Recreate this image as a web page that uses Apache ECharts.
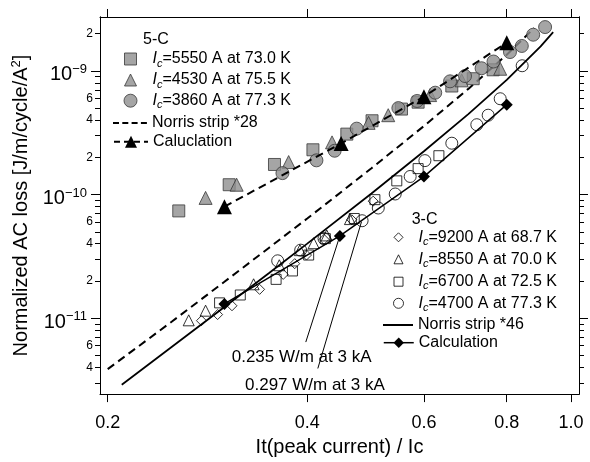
<!DOCTYPE html>
<html><head><meta charset="utf-8">
<script src="https://cdn.jsdelivr.net/npm/echarts@6/dist/echarts.min.js"></script>
<style>html,body{margin:0;padding:0;background:#fff}#c{width:590px;height:462px}</style>
</head><body><div id="c"></div>
<script>
// ---------------- data (x = It/Ic, y = normalized loss) ----------------
const xTickVals = [0.2, 0.4, 0.6, 0.8, 1.0];
const yLabelVals = [2e-9, 1e-9, 6e-10, 4e-10, 2e-10, 1e-10, 6e-11, 4e-11, 2e-11, 1e-11, 6e-12, 4e-12];
const yMajorTicks = [1e-11, 1e-10, 1e-9];
const yMinorTicks = [3e-12,4e-12,5e-12,6e-12,7e-12,8e-12,9e-12,
  2e-11,3e-11,4e-11,5e-11,6e-11,7e-11,8e-11,9e-11,
  2e-10,3e-10,4e-10,5e-10,6e-10,7e-10,8e-10,9e-10,2e-9];

// 5-C
const sq5550 = [[0.256,7.37e-11],[0.305,1.20e-10],[0.357,1.75e-10],[0.408,2.30e-10],[0.459,3.08e-10],[0.501,3.95e-10],[0.555,4.91e-10],[0.588,5.58e-10],[0.661,7.54e-10],[0.712,8.64e-10],[0.763,1.02e-9]];
const tri4530 = [[0.281,9.39e-11],[0.313,1.20e-10],[0.375,1.83e-10],[0.436,2.64e-10],[0.495,3.80e-10],[0.530,4.38e-10],[0.613,6.37e-10],[0.684,8.38e-10],[0.782,1.04e-9]];
const cir3860 = [[0.367,1.49e-10],[0.413,1.89e-10],[0.440,2.26e-10],[0.475,3.41e-10],[0.549,5.00e-10],[0.586,5.71e-10],[0.624,6.66e-10],[0.657,8.23e-10],[0.692,9.08e-10],[0.733,1.05e-9],[0.764,1.19e-9],[0.809,1.42e-9],[0.843,1.59e-9],[0.877,1.96e-9],[0.914,2.26e-9]];
const norris28X = [0.2, 0.25, 0.3, 0.35, 0.4, 0.5, 0.6, 0.7, 0.8, 0.88];
const norris28Y = [3.87e-12, 9.4e-12, 1.97e-11, 3.7e-11, 6.4e-11, 1.63e-10, 3.58e-10, 7.15e-10, 1.35e-9, 2.22e-9];
const calc5X = [0.30, 0.45, 0.60, 0.80];
const calc5Y = [7.98e-11, 2.59e-10, 6.19e-10, 1.69e-9];

// 3-C
const dia9200 = [[0.277,9.55e-12],[0.293,1.07e-11],[0.308,1.26e-11],[0.339,1.71e-11],[0.368,2.26e-11],[0.383,2.76e-11],[0.399,3.24e-11],[0.424,4.34e-11],[0.467,6.25e-11],[0.503,8.84e-11]];
const tri8550 = [[0.265,9.61e-12],[0.281,1.15e-11],[0.332,1.88e-11],[0.363,2.68e-11],[0.390,3.55e-11],[0.409,4.04e-11],[0.428,4.67e-11],[0.464,6.33e-11]];
const sq6700 = [[0.295,1.33e-11],[0.317,1.54e-11],[0.359,2.06e-11],[0.380,2.41e-11],[0.402,3.24e-11],[0.426,4.40e-11],[0.471,6.40e-11],[0.506,9.09e-11],[0.546,1.29e-10],[0.588,1.62e-10],[0.632,2.06e-10]];
const cir4700 = [[0.361,2.91e-11],[0.391,3.55e-11],[0.424,4.40e-11],[0.484,6.14e-11],[0.512,7.78e-11],[0.543,1.01e-10],[0.572,1.40e-10],[0.602,1.88e-10],[0.661,2.60e-10],[0.721,3.67e-10],[0.750,4.38e-10],[0.782,5.95e-10],[0.844,1.10e-9]];
const norris46X = [0.21, 0.25, 0.3, 0.35, 0.4, 0.5, 0.6, 0.7, 0.8, 0.9, 0.94];
const norris46Y = [2.9e-12, 5.87e-12, 1.23e-11, 2.31e-11, 4.01e-11, 1.02e-10, 2.24e-10, 4.47e-10, 8.45e-10, 1.58e-9, 2.06e-9];
const calc3X = [0.30, 0.448, 0.60, 0.80];
const calc3Y = [1.305e-11, 4.63e-11, 1.396e-10, 5.33e-10];

// annotation leader lines (label end -> data point)
const ann1 = [[0.398, 6.41e-12], [0.448, 4.63e-11]];
const ann2 = [[0.415, 3.92e-12], [0.483, 6.03e-11]];
const annText = ['0.235 W/m at 3 kA', '0.297 W/m at 3 kA'];

// ---------------- helpers ----------------
const L = Math.log10;
const P = arr => arr.map(p => [L(p[0]), L(p[1])]);
const Z = (xs, ys) => xs.map((x, i) => [L(x), L(ys[i])]);
const FONT = '"Liberation Sans", Arial, sans-serif';
const XMIN = -0.7106, XMAX = 0.0121, YMIN = -11.6139, YMAX = -8.5644;

const gray = {color: '#8f8f8f', borderColor: '#383838', borderWidth: 1};
const open = {color: 'rgba(255,255,255,0)', borderColor: '#000', borderWidth: 1};

function yFmt(v) {
  const e = Math.floor(v + 1e-6);
  const m = Math.round(Math.pow(10, v - e));
  if (m === 1) return '{b|10}{s|\u2212' + (-e) + '}';
  return '{m|' + m + '}';
}

function xAx(pos, showLabel) {
  return {
    type: 'value', position: pos, min: XMIN, max: XMAX,
    axisLine: {show: true, onZero: false, lineStyle: {color: '#000', width: 1}},
    axisTick: {show: true, customValues: xTickVals.map(L), length: 8, lineStyle: {color: '#000', width: 1}},
    axisLabel: {show: showLabel, customValues: xTickVals.map(L), formatter: v => Math.pow(10, v).toFixed(1),
      fontSize: 18, color: '#000', fontFamily: FONT, margin: 20},
    splitLine: {show: false},
    name: showLabel ? 'It(peak current) / Ic' : '', nameLocation: 'middle', nameGap: 36,
    nameTextStyle: {fontSize: 20, color: '#000', fontFamily: FONT}
  };
}
function yAx(pos, ticks, len, labels, withName) {
  const a = {
    type: 'value', position: pos, min: YMIN, max: YMAX,
    axisLine: {show: true, onZero: false, lineStyle: {color: '#000', width: 1}},
    axisTick: {show: true, customValues: ticks.map(L), length: len, lineStyle: {color: '#000', width: 1}},
    axisLabel: {show: !!labels, customValues: (labels || []).map(L), formatter: yFmt, color: '#000', fontFamily: FONT, margin: 7,
      rich: {
        b: {fontSize: 20, lineHeight: 20, padding: [8, 0, 0, 0], fontFamily: FONT, color: '#000'},
        s: {fontSize: 13, lineHeight: 13, verticalAlign: 'top', padding: [2, 6, 0, 0], fontFamily: FONT, color: '#000'},
        m: {fontSize: 12, fontFamily: FONT, color: '#000'}
      }},
    splitLine: {show: false}
  };
  if (withName) {
    a.name = '{n|Normalized AC loss [J/m/cycle/A}{p|2}{n|]}';
    a.nameLocation = 'middle';
    a.nameGap = 59;
    a.nameTextStyle = {fontFamily: FONT, color: '#000', rich: {
      n: {fontSize: 20, lineHeight: 24, fontFamily: FONT, color: '#000'},
      p: {fontSize: 13, lineHeight: 12, verticalAlign: 'top', fontFamily: FONT, color: '#000'}
    }};
  }
  return a;
}

const richLeg = {
  i: {fontSize: 16, fontStyle: 'italic', lineHeight: 20, fontFamily: FONT, color: '#000'},
  c: {fontSize: 11, fontStyle: 'italic', lineHeight: 8, verticalAlign: 'bottom', fontFamily: FONT, color: '#000'},
  t: {fontSize: 16, lineHeight: 20, fontFamily: FONT, color: '#000'}
};
function legFmt(name) {
  if (name.indexOf('Ic') === 0) return '{i|I}{c|c}{t|' + name.slice(2) + '}';
  return '{t|' + name + '}';
}
const ICON = {
  sq: 'path://M0,0L10,0L10,10L0,10Z',
  tri: 'path://M5,0L10,10L0,10Z',
  dia: 'path://M5,0L10,5L5,10L0,5Z',
  dash: 'path://M0,0h6v2h-6zM9.3,0h6v2h-6zM18.6,0h6v2h-6zM27.9,0h6v2h-6z',
  solid: 'path://M0,0h30v2h-30z'
};
function leg(name, left, cy, o) {
  return Object.assign({
    data: [name], left: left, top: cy - 10, padding: 0, orient: 'horizontal',
    selectedMode: false, itemWidth: 34, itemHeight: 12, formatter: legFmt,
    textStyle: {fontSize: 16, color: '#000', fontFamily: FONT, lineHeight: 20, rich: richLeg}
  }, o);
}
// legend box left edges (icon boxes of 34 / 30 px); small icons are centred in them
const L5 = 113, L3 = 383;
const cen = (boxLeft, boxW, icon) => boxLeft + (boxW - icon) / 2;

const N5a = 'Ic=5550 A at 73.0 K', N5b = 'Ic=4530 A at 75.5 K', N5c = 'Ic=3860 A at 77.3 K';
const N5n = 'Norris strip *28', N5k = 'Caluclation';
const N3a = 'Ic=9200 A at 68.7 K', N3b = 'Ic=8550 A at 70.0 K', N3c = 'Ic=6700 A at 72.5 K', N3d = 'Ic=4700 A at 77.3 K';
const N3n = 'Norris strip *46', N3k = 'Calculation';
const openLeg = {color: '#fff', borderColor: '#000', borderWidth: 1};

const legends = [
  leg(N5a, cen(L5, 34, 12), 59, {icon: ICON.sq, itemHeight: 12, itemStyle: gray}),
  leg(N5b, cen(L5, 34, 12), 80, {icon: ICON.tri, itemHeight: 12, itemStyle: gray}),
  leg(N5c, cen(L5, 34, 13), 100.7, {icon: 'circle', itemHeight: 13, itemStyle: gray}),
  leg(N5n, L5, 123, {icon: ICON.dash, itemHeight: 2, itemStyle: {color: '#000', borderWidth: 0}}),
  leg(N5k, L5, 141.7, {itemHeight: 15, lineStyle: {type: [6, 4], width: 2, color: '#000'}, itemStyle: {color: '#000', borderWidth: 0}}),
  leg(N3a, cen(L3, 30, 9), 237.3, {icon: ICON.dia, itemWidth: 30, itemHeight: 9, itemStyle: openLeg}),
  leg(N3b, cen(L3, 30, 9), 259.3, {icon: ICON.tri, itemWidth: 30, itemHeight: 9, itemStyle: openLeg}),
  leg(N3c, cen(L3, 30, 9), 281.7, {icon: ICON.sq, itemWidth: 30, itemHeight: 9, itemStyle: openLeg}),
  leg(N3d, cen(L3, 30, 10), 303.3, {icon: 'circle', itemWidth: 30, itemHeight: 10, itemStyle: openLeg}),
  leg(N3n, L3, 325, {icon: ICON.solid, itemWidth: 30, itemHeight: 2, itemStyle: {color: '#000', borderWidth: 0}}),
  leg(N3k, L3, 342.7, {itemWidth: 30, itemHeight: 13, lineStyle: {type: 'solid', width: 1.5, color: '#000'}, itemStyle: {color: '#000', borderWidth: 0}})
];

function scat(name, data, sym, size, style) {
  return {name, type: 'scatter', data: P(data), symbol: sym, symbolSize: size, itemStyle: style, z: 5};
}

const option = {
  animation: false,
  backgroundColor: '#fff',
  textStyle: {fontFamily: FONT},
  grid: {left: 100, right: 11, top: 17, bottom: 60, containLabel: false},
  xAxis: [xAx('bottom', true), xAx('top', false)],
  yAxis: [
    yAx('left', yMajorTicks, 9, yLabelVals, true),
    yAx('left', yMinorTicks, 5, null, false),
    yAx('right', yMajorTicks, 9, null, false),
    yAx('right', yMinorTicks, 5, null, false)
  ],
  legend: legends,
  graphic: [
    {type: 'text', x: 143, y: 40, style: {text: '5-C', fontSize: 16, fontFamily: FONT, fill: '#000', verticalAlign: 'middle'}},
    {type: 'text', x: 411.7, y: 220, style: {text: '3-C', fontSize: 16, fontFamily: FONT, fill: '#000', verticalAlign: 'middle'}},
    {type: 'text', x: 231.7, y: 357.3, style: {text: annText[0], fontSize: 17, fontFamily: FONT, fill: '#000', verticalAlign: 'middle'}},
    {type: 'text', x: 245, y: 385.7, style: {text: annText[1], fontSize: 17, fontFamily: FONT, fill: '#000', verticalAlign: 'middle'}}
  ],
  series: [
    {name: N3n, type: 'line', data: Z(norris46X, norris46Y), showSymbol: false, symbol: 'none',
      lineStyle: {color: '#000', width: 1.8}, itemStyle: {color: '#000'}, z: 2,
      markLine: {silent: true, symbol: 'none', label: {show: false}, lineStyle: {color: '#000', width: 1, type: 'solid'},
        animation: false,
        data: [
          [{coord: [L(ann1[0][0]), L(ann1[0][1])]}, {coord: [L(ann1[1][0]), L(ann1[1][1])]}],
          [{coord: [L(ann2[0][0]), L(ann2[0][1])]}, {coord: [L(ann2[1][0]), L(ann2[1][1])]}]
        ]}},
    {name: N5n, type: 'line', data: Z(norris28X, norris28Y), showSymbol: false, symbol: 'none',
      lineStyle: {color: '#000', width: 2, type: [8, 5]}, itemStyle: {color: '#000'}, z: 2},
    {name: N5k, type: 'line', data: Z(calc5X, calc5Y), symbol: 'triangle', symbolSize: 15, showSymbol: true,
      lineStyle: {color: '#000', width: 2, type: [8, 5]}, itemStyle: {color: '#000'}, z: 6},
    {name: N3k, type: 'line', data: Z(calc3X, calc3Y), symbol: 'diamond', symbolSize: 12, showSymbol: true,
      lineStyle: {color: '#000', width: 1.5}, itemStyle: {color: '#000'}, z: 6},
    scat(N5a, sq5550, 'rect', 12, gray),
    scat(N5b, tri4530, 'triangle', 13, gray),
    scat(N5c, cir3860, 'circle', 13, gray),
    scat(N3a, dia9200, 'diamond', 10, open),
    scat(N3b, tri8550, 'triangle', 11, open),
    scat(N3c, sq6700, 'rect', 10, open),
    scat(N3d, cir4700, 'circle', 12, open)
  ]
};

const chart = echarts.init(document.getElementById('c'), null, {renderer: 'canvas'});
chart.setOption(option);
</script>
</body></html>
